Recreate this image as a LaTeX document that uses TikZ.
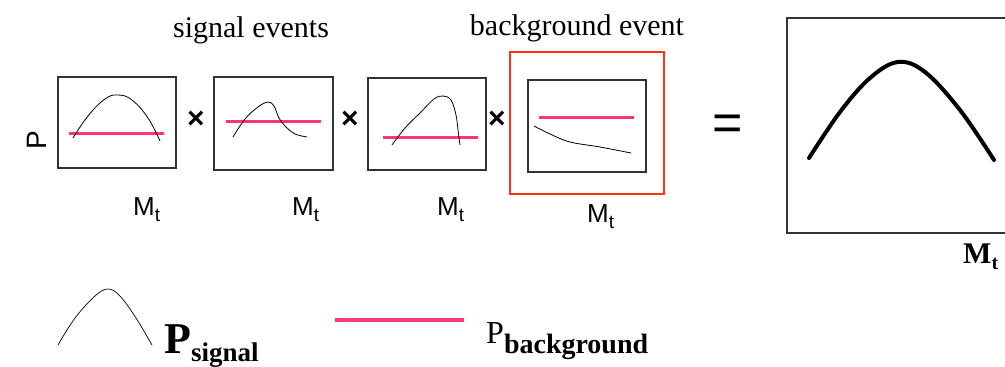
\documentclass[tikz,border=0pt]{standalone}
\usepackage{fontspec}
\setmainfont{Liberation Serif}
\newfontfamily\arialf{Liberation Sans}
\definecolor{boxgray}{HTML}{333333}
\definecolor{pinkbg}{HTML}{FF3380}
\definecolor{redframe}{HTML}{FF3311}
\tikzset{
  frame/.style={draw=boxgray, line width=1.4pt, inner sep=0pt},
  bgline/.style={draw=pinkbg, line width=3pt},
  sigline/.style={draw=black, line width=0.8pt},
  lbl/.style={inner sep=0pt, anchor=base west},
  sans/.style={font=\arialf\fontsize{26}{26}\selectfont},
  timesA/.style={font=\fontsize{30}{30}\selectfont},
}
\newcommand{\mlabel}{M\raisebox{-6pt}{\fontsize{19}{19}\selectfont t}}
\begin{document}
\begin{tikzpicture}[x=1pt,y=-1pt]
\useasboundingbox (0,0) rectangle (1005,367);

% titles
\node[timesA, inner sep=0pt, anchor=base] (tsig) at (251,37) {signal events};
\node[timesA, inner sep=0pt, anchor=base] (tbg) at (577,35) {background event};

% axis label P
\node[font=\arialf\fontsize{28}{28}\selectfont, rotate=90, inner sep=0pt] (py) at (37,140) {P};

% box 1
\node[frame, minimum width=118pt, minimum height=91pt] (b1) at (117,122.5) {};
\draw[bgline] (69,133) -- (164,133);
\draw[sigline] plot[smooth, tension=0.7] coordinates {(73,138) (88,116) (105,99) (118,95) (132,100) (148,118) (160,141)};
% box 2
\node[frame, minimum width=119pt, minimum height=93pt] (b2) at (273.5,123.5) {};
\draw[bgline] (226,121) -- (321,121);
\draw[sigline] plot[smooth, tension=0.6] coordinates {(233,137) (245,119) (258,107) (268,102) (274,106) (279,118) (286,127) (295,134) (307,137)};
% box 3
\node[frame, minimum width=118pt, minimum height=92pt] (b3) at (427,124) {};
\draw[bgline] (383,137) -- (478,137);
\draw[sigline] plot[smooth, tension=0.6] coordinates {(392,145) (405,128) (420,113) (434,99) (443,96) (451,100) (456,115) (458,130) (460,145)};
% background box
\node[draw=redframe, line width=2pt, minimum width=154pt, minimum height=142pt, inner sep=0pt] (rb) at (587,123) {};
\node[frame, minimum width=118pt, minimum height=92pt] (b4) at (587,126) {};
\draw[bgline] (539,117) -- (634,117);
\draw[sigline] plot[smooth, tension=0.6] coordinates {(534,126) (550,134) (570,142) (600,147) (631,153)};

% times signs
\node[font=\arialf\bfseries\fontsize{30}{30}\selectfont, inner sep=0pt] (x1) at (196,120) {×};
\node[font=\arialf\bfseries\fontsize{30}{30}\selectfont, inner sep=0pt] (x2) at (350,120) {×};
\node[font=\arialf\bfseries\fontsize{30}{30}\selectfont, inner sep=0pt] (x3) at (497,120) {×};

% M_t labels
\node[lbl, sans] (m1) at (133,215) {\mlabel};
\node[lbl, sans] (m2) at (292,215) {\mlabel};
\node[lbl, sans] (m3) at (437,215) {\mlabel};
\node[lbl, sans] (m4) at (587,222) {\mlabel};

% equals
\node[font=\arialf\fontsize{52}{52}\selectfont, inner sep=0pt] (eq) at (728,128) {=};

% result box
\coordinate (rtop) at (1006,18);
\coordinate (rtl) at (787,18);
\coordinate (rbl) at (787,233);
\coordinate (rbot) at (1006,233);
\draw[boxgray, line width=1.4pt] (rtop) -- (rtl) -- (rbl) -- (rbot);
\draw[black, line width=4pt, line cap=round] plot[smooth, tension=0.6] coordinates {(809,158) (840,112) (870,78) (898,62) (925,72) (960,110) (994,160)};
\node[lbl, font=\bfseries\fontsize{30}{30}\selectfont] (mbig) at (963,263) {M\raisebox{-6pt}{\fontsize{20}{20}\selectfont t}};

% legend
\draw[sigline, line width=0.7pt] plot[smooth, tension=0.6] coordinates {(58,345) (75,318) (95,296) (108,289) (120,296) (136,318) (152,345)};
\node[lbl, font=\bfseries\fontsize{44}{44}\selectfont] (psig) at (164,353) {P\raisebox{-8pt}{\fontsize{27}{27}\selectfont signal}};
\coordinate (pl1) at (335,320);
\coordinate (pl2) at (464,320);
\draw[bgline, line width=3.5pt] (pl1) -- (pl2);
\node[lbl, font=\fontsize{32}{32}\selectfont] (pbg) at (486,343) {P\raisebox{-10pt}{\bfseries\fontsize{28}{28}\selectfont background}};
\end{tikzpicture}
\end{document}
